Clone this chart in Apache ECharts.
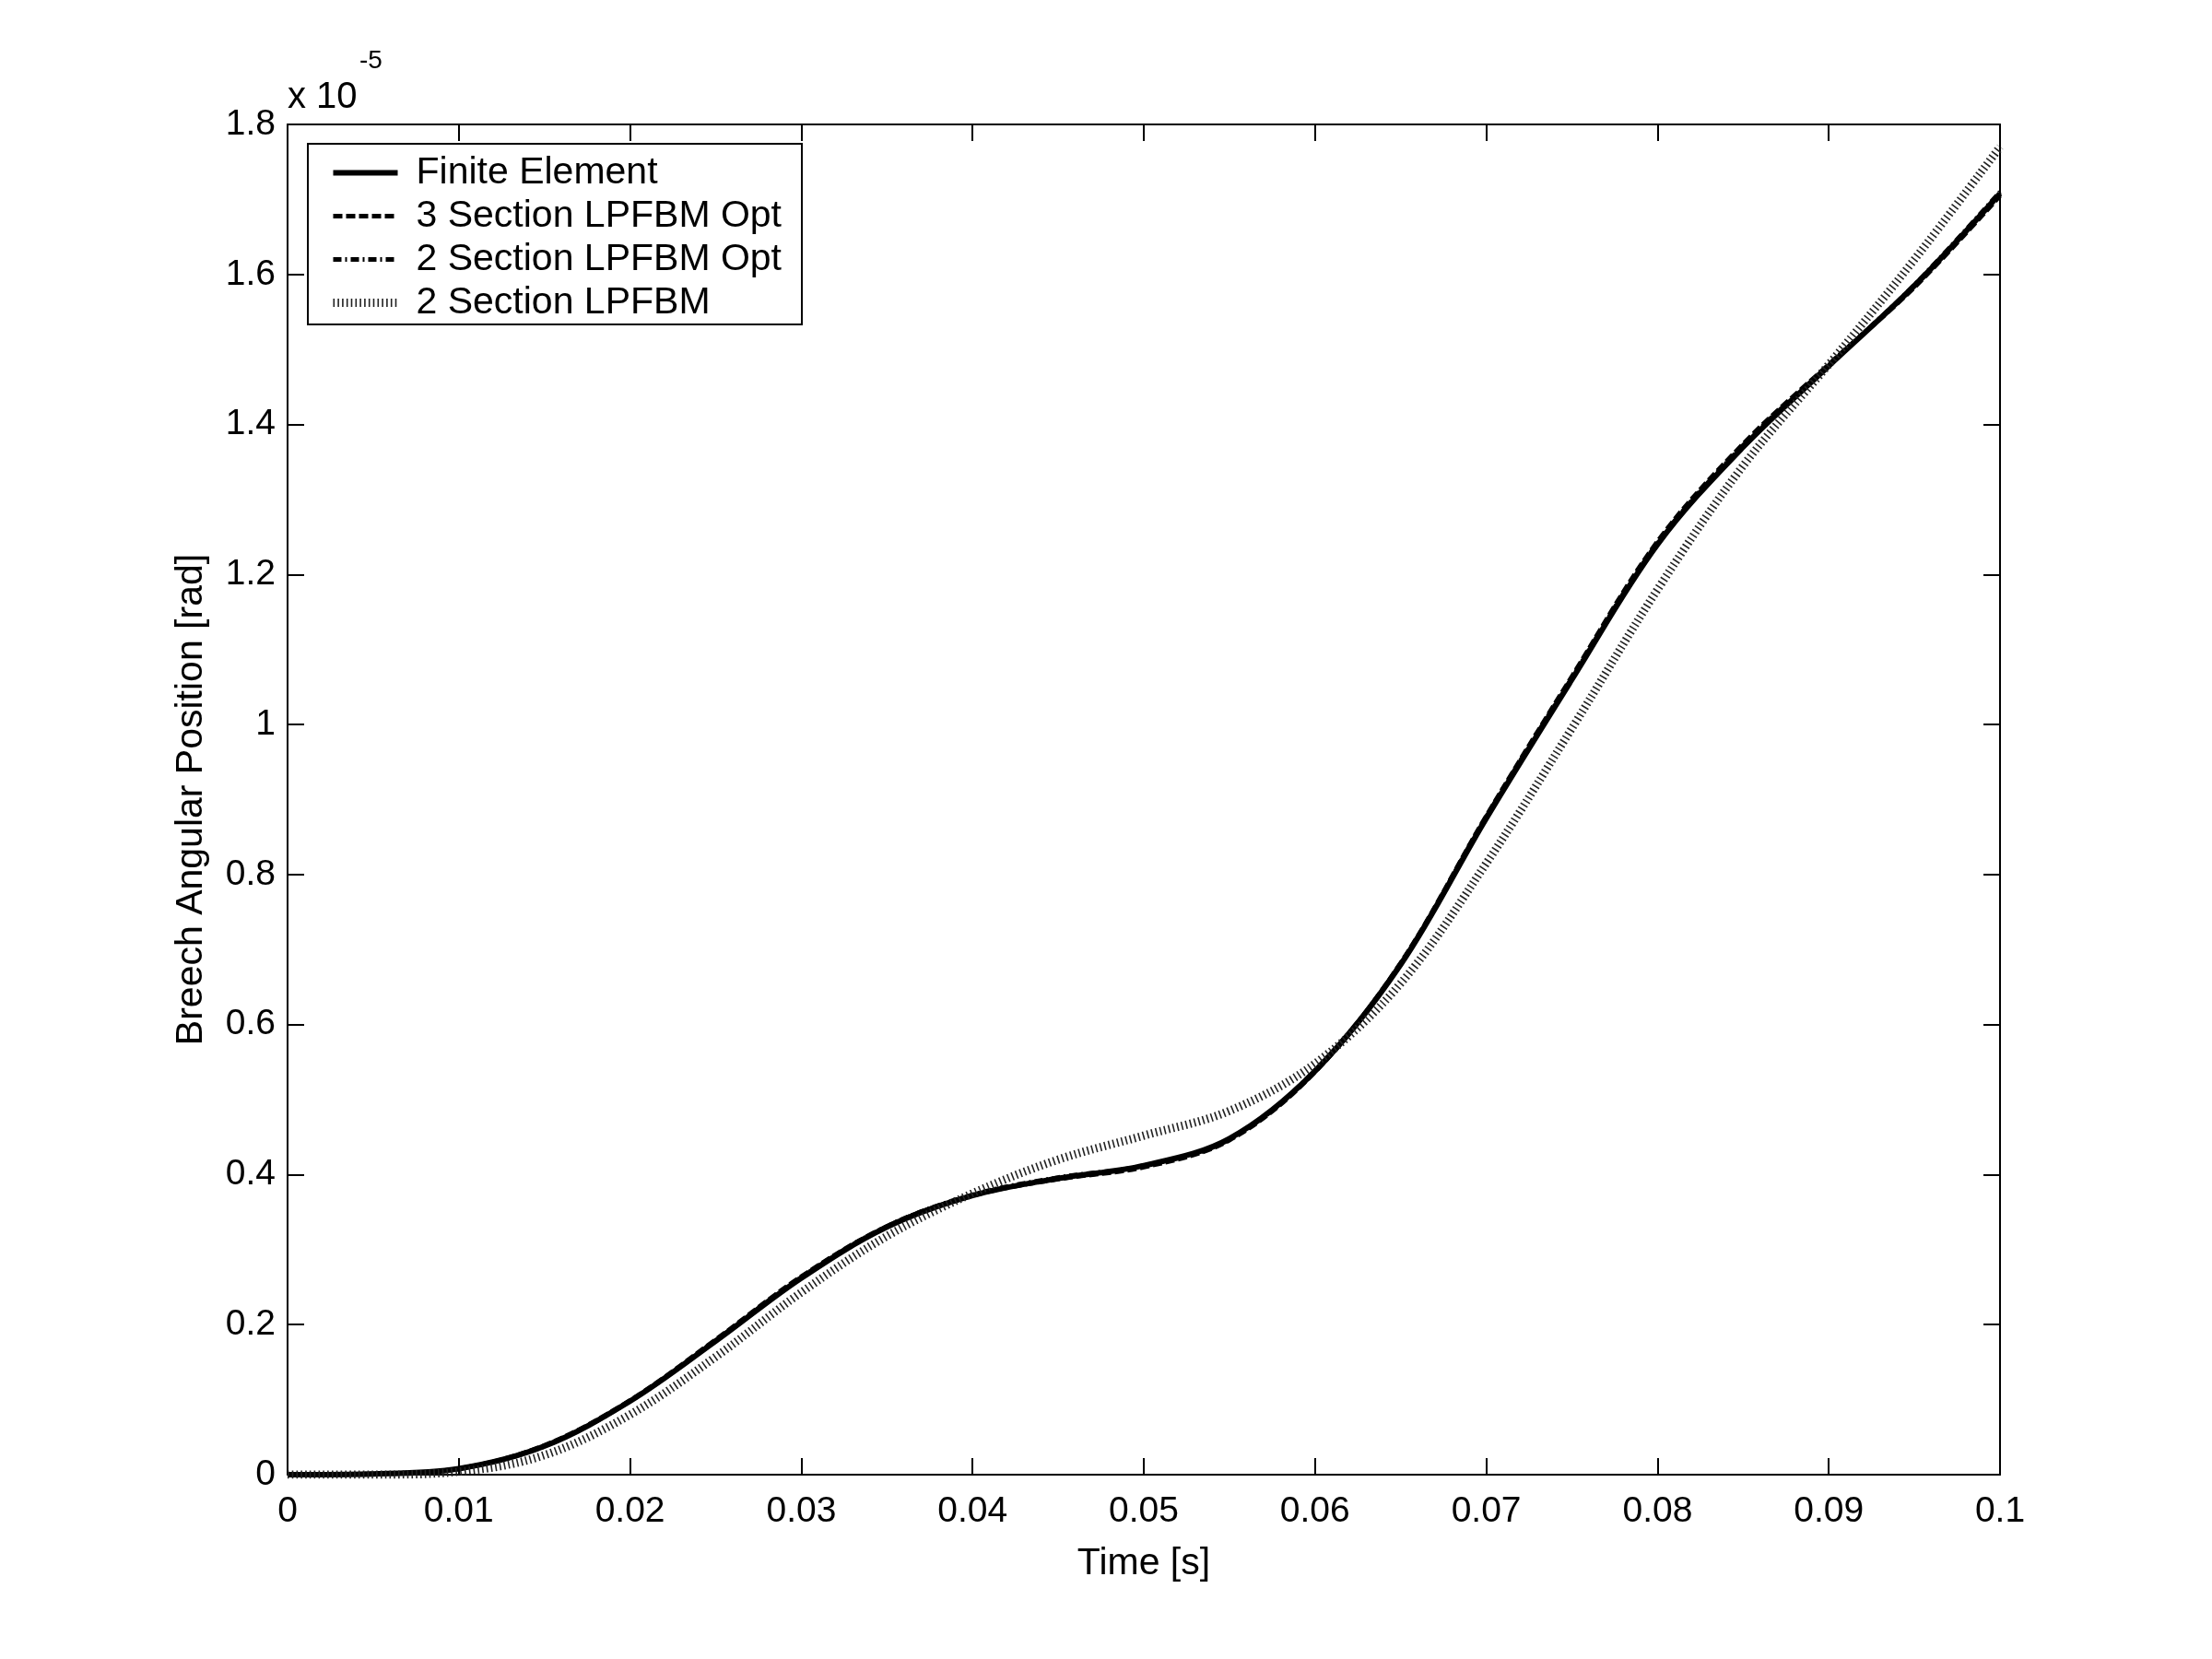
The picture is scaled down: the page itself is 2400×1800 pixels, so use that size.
<!DOCTYPE html>
<html>
<head>
<meta charset="utf-8">
<script src="https://cdn.jsdelivr.net/npm/echarts@6/dist/echarts.min.js"></script>
<style>
html,body{margin:0;padding:0;background:#fff;}
#chart{width:2400px;height:1800px;}
</style>
</head>
<body>
<div id="chart"></div>
<script>
// Time [s]
const timeValues = [0, 0.005, 0.01, 0.015, 0.02, 0.025, 0.03, 0.035, 0.04, 0.045, 0.05,
  0.055, 0.06, 0.065, 0.07, 0.075, 0.08, 0.085, 0.09, 0.095, 0.1];
// Breech angular position, in units of 1e-5 rad
const finiteElement = [0, 0.001, 0.008, 0.038, 0.098, 0.178, 0.262, 0.330, 0.372, 0.395, 0.412,
  0.448, 0.538, 0.680, 0.875, 1.060, 1.240, 1.370, 1.478, 1.585, 1.708];
const threeSectionOpt = [0, 0.001, 0.008, 0.039, 0.099, 0.180, 0.264, 0.331, 0.372, 0.394, 0.410,
  0.446, 0.537, 0.682, 0.878, 1.064, 1.244, 1.374, 1.480, 1.583, 1.705];
const twoSectionOpt = [0, 0.001, 0.008, 0.038, 0.098, 0.179, 0.263, 0.331, 0.373, 0.396, 0.412,
  0.447, 0.539, 0.681, 0.877, 1.062, 1.242, 1.372, 1.479, 1.586, 1.710];
const twoSection = [0, 0.000, 0.004, 0.026, 0.080, 0.157, 0.243, 0.318, 0.375, 0.420, 0.452,
  0.485, 0.548, 0.655, 0.815, 0.995, 1.180, 1.345, 1.480, 1.620, 1.770];
const seriesNames = ['Finite Element', '3 Section LPFBM Opt', '2 Section LPFBM Opt', '2 Section LPFBM'];

const FONT = "'Liberation Sans', Arial, Helvetica, sans-serif";
const pairs = (ys) => timeValues.map((t, i) => [t, ys[i]]);

const styles = [
  {color: '#000', width: 6, type: 'solid'},
  {color: '#000', width: 5, type: [10, 4]},
  {color: '#000', width: 5, type: [9, 4, 2, 4]},
  {color: '#222', width: 9, type: [1.6, 3.2], cap: 'butt'}
];

const chart = echarts.init(document.getElementById('chart'), null, {renderer: 'canvas'});

function axisCommon() {
  return {
    axisLine: {onZero: false, lineStyle: {color: '#000', width: 2}},
    axisTick: {inside: true, length: 18, lineStyle: {color: '#000', width: 2}},
    splitLine: {show: false}
  };
}

const seriesData = [finiteElement, threeSectionOpt, twoSectionOpt, twoSection];

chart.setOption({
  backgroundColor: '#fff',
  animation: false,
  grid: {left: 312, right: 230, top: 135, bottom: 200, containLabel: false},
  xAxis: [
    Object.assign({
      type: 'value', min: 0, max: 0.1, interval: 0.01, position: 'bottom',
      name: 'Time [s]', nameLocation: 'middle', nameGap: 76,
      nameTextStyle: {fontFamily: FONT, fontSize: 41, color: '#000'},
      axisLabel: {fontFamily: FONT, fontSize: 39, color: '#000', margin: 21}
    }, axisCommon()),
    Object.assign({
      type: 'value', min: 0, max: 0.1, interval: 0.01, position: 'top',
      axisLabel: {show: false}
    }, axisCommon())
  ],
  yAxis: [
    Object.assign({
      type: 'value', min: 0, max: 1.8, interval: 0.2, position: 'left',
      name: 'Breech Angular Position [rad]', nameLocation: 'middle', nameGap: 84,
      nameTextStyle: {fontFamily: FONT, fontSize: 41, color: '#000'},
      axisLabel: {fontFamily: FONT, fontSize: 39, color: '#000', margin: 13}
    }, axisCommon()),
    Object.assign({
      type: 'value', min: 0, max: 1.8, interval: 0.2, position: 'right',
      axisLabel: {show: false}
    }, axisCommon())
  ],
  legend: {
    data: seriesNames.map((n, i) => ({name: n, itemStyle: {opacity: 0}, lineStyle: Object.assign({}, styles[i])})),
    orient: 'vertical',
    left: 334, top: 156,
    padding: [11, 22, 3, 23],
    itemWidth: 70, itemHeight: 20, itemGap: 6,
    selectedMode: false,
    backgroundColor: '#fff',
    borderColor: '#000', borderWidth: 2, borderRadius: 0,
    itemStyle: {opacity: 0},
    textStyle: {fontFamily: FONT, fontSize: 41, color: '#000', lineHeight: 40, padding: [0, 0, 0, 15]}
  },
  graphic: [
    {type: 'text', left: 312, top: 86, style: {text: 'x 10', font: '40px ' + FONT, fill: '#000'}},
    {type: 'text', left: 390, top: 52, style: {text: '-5', font: '28px ' + FONT, fill: '#000'}}
  ],
  series: seriesNames.map((n, i) => ({
    name: n, type: 'line', data: pairs(seriesData[i]), symbol: 'none', smooth: 0.35,
    lineStyle: Object.assign({}, styles[i]), itemStyle: {color: styles[i].color}
  }))
});
</script>
</body>
</html>
